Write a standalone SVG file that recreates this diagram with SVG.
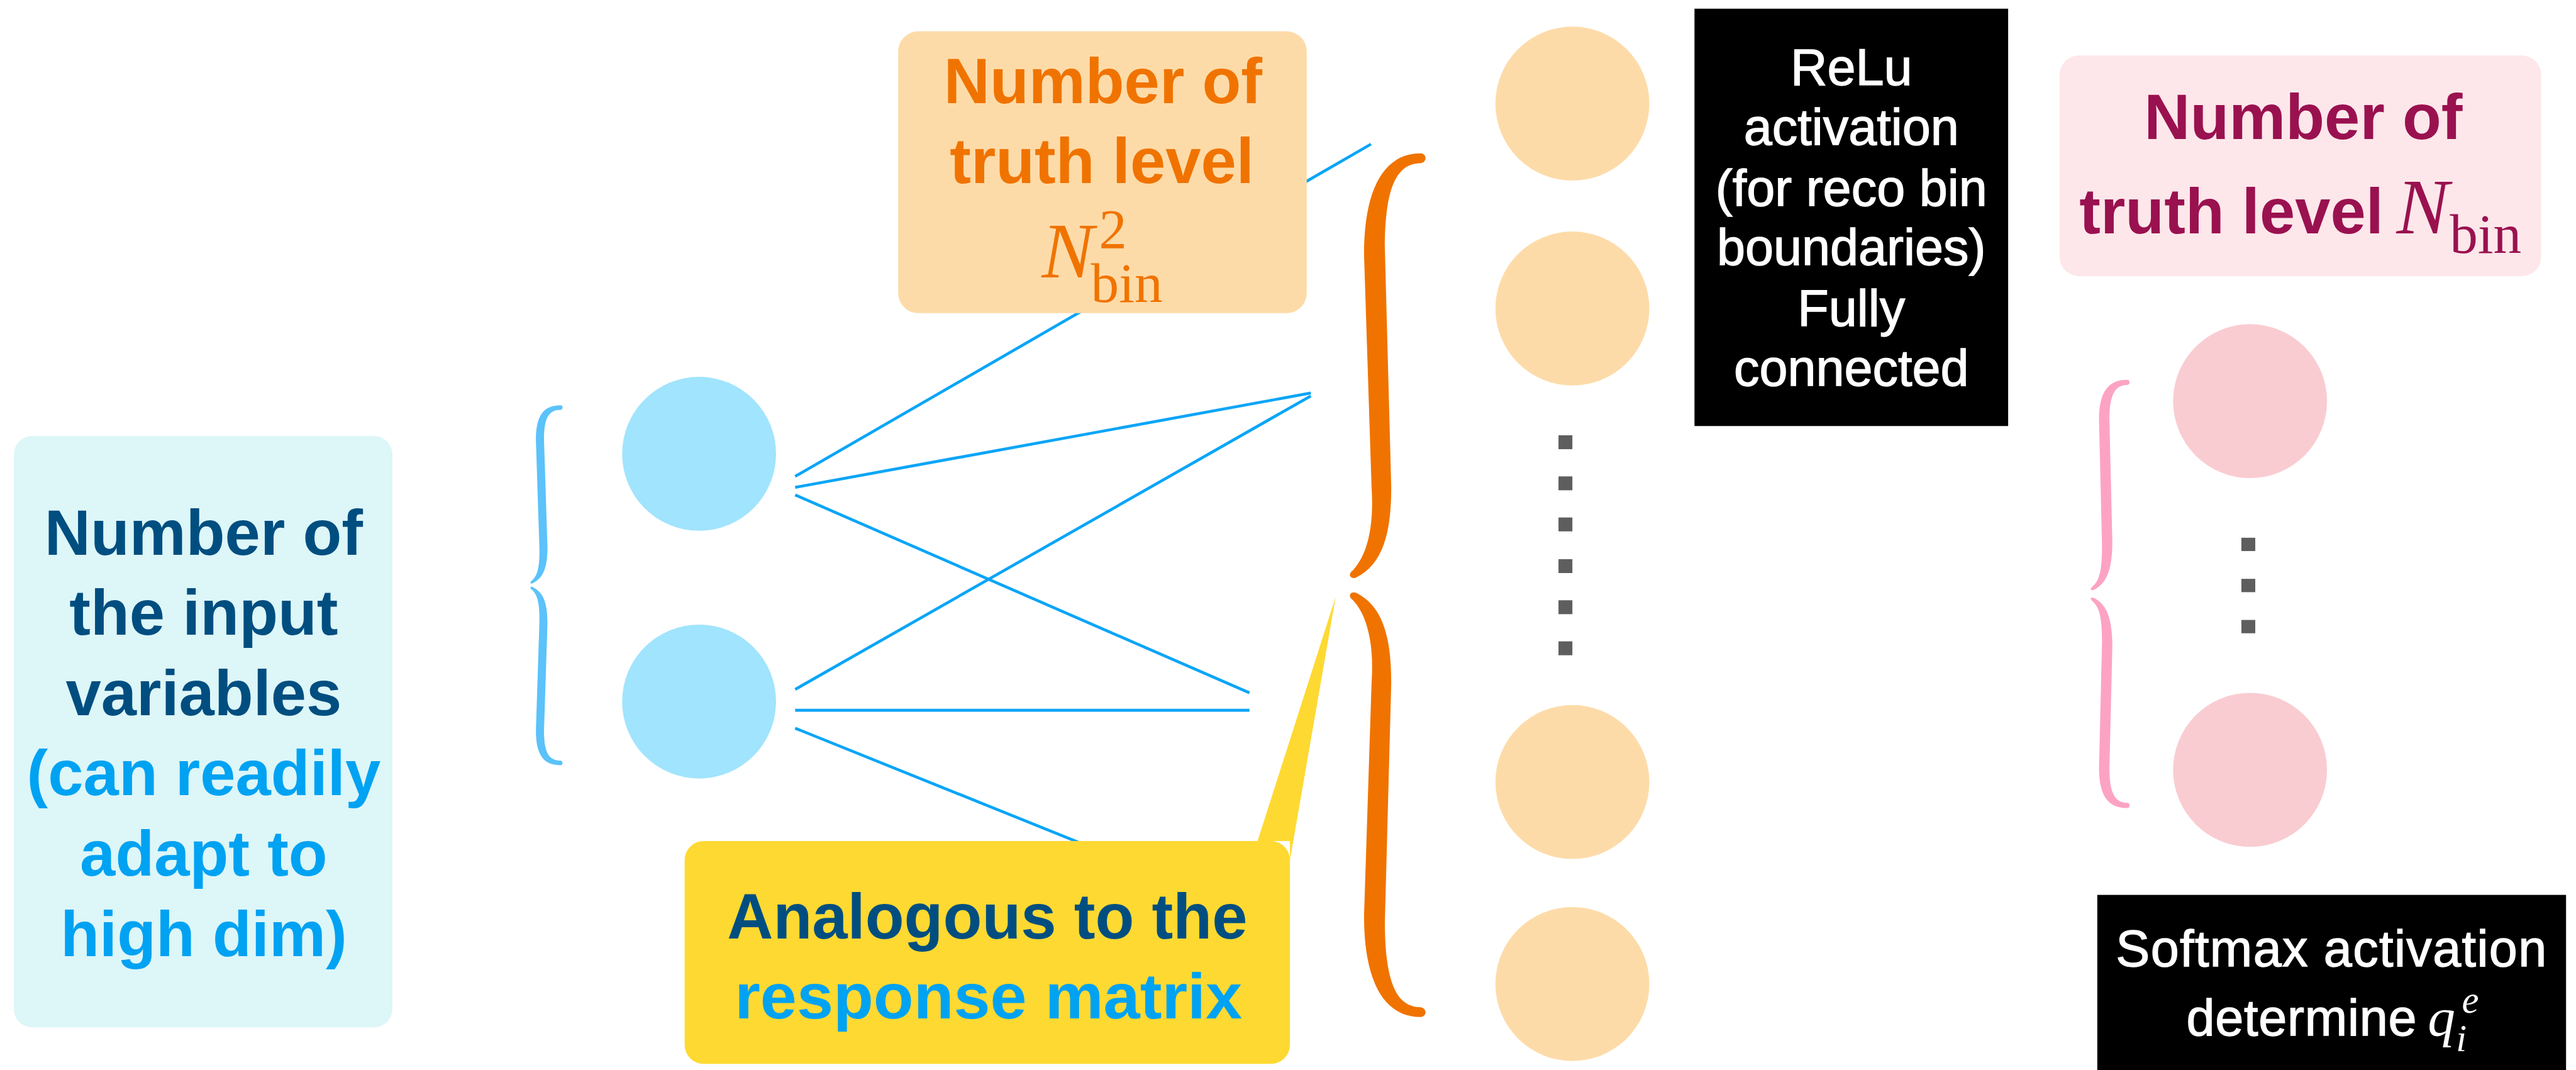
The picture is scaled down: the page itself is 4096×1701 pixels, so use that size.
<svg xmlns="http://www.w3.org/2000/svg" width="4096" height="1701" viewBox="0 0 4096 1701">
  <style>
    .lbl{font-family:"Liberation Sans",Arial,Helvetica,sans-serif;font-weight:bold;font-size:110px;text-anchor:middle}
    .inv{font-family:"Liberation Sans",Arial,Helvetica,sans-serif;font-size:88px;fill:#fff;stroke:#fff;stroke-width:1.5}
    .math{font-family:"Liberation Serif","Times New Roman",serif;font-weight:normal;stroke:none}
    .it{font-style:italic}
    .wire{stroke:#0AA5F7;stroke-width:5;fill:none}
    .dark{fill:#004E80}
    .light{fill:#00A2F2}
    .orng{fill:#F07300}
    .plum{fill:#9A1150}
    .dot{fill:#5E5E5E}
    .inNode{fill:#A1E4FD}
    .hidNode{fill:#FDDBA9}
    .outNode{fill:#F9CCD2}
  </style>
  <defs>
    <!-- upper halves of the curly braces; lower halves are mirrored copies -->
    <path id="braceBlue" fill="#5BC2FA" d="M969 700 C942 700 926 714 926 760 L932 945 C933 982 928 996 918 1004 C915 1007 917 1009 920 1008 C938 999 946 983 946 945 L940 760 C940 722 948 708 969 708 C973 708 973 700 969 700 Z"/>
    <path id="braceOrange" fill="#F07300" d="M2455 265 C2392 265 2357 325 2357 440 L2370 842 C2374 900 2366 955 2338 985 C2328 992 2333 1001 2343 998 C2390 975 2404 920 2404 842 L2393 430 C2393 320 2415 282 2455 282 C2466 280 2466 266 2455 265 Z"/>
    <path id="bracePink" fill="#FCA3C3" d="M3676 656 C3645 656 3627 674 3627 725 L3632 935 C3633 985 3628 1003 3615 1014 C3611 1018 3613 1021 3618 1019 C3640 1008 3650 985 3650 935 L3645 725 C3645 681 3655 665 3676 665 C3681 665 3681 656 3676 656 Z"/>
  </defs>
  <rect width="4096" height="1701" fill="#fff"/>
  <g transform="scale(0.9202)">

    <!-- weights between the input layer and the first hidden layer -->
    <g id="connectors">
      <line class="wire" x1="1374" y1="823" x2="2369" y2="249"/>
      <line class="wire" x1="1374" y1="842" x2="2265" y2="679"/>
      <line class="wire" x1="1374" y1="855" x2="2159" y2="1197"/>
      <line class="wire" x1="1374" y1="1191" x2="2265" y2="684"/>
      <line class="wire" x1="1374" y1="1227" x2="2159" y2="1227"/>
      <line class="wire" x1="1374" y1="1258" x2="1866" y2="1456"/>
    </g>

    <!-- input description -->
    <g id="input-label">
      <rect x="24" y="753" width="654" height="1022" rx="32" fill="#DDF6F8"/>
      <text class="lbl dark" x="352" y="958">Number of</text>
      <text class="lbl dark" x="352" y="1097">the input</text>
      <text class="lbl dark" x="352" y="1236">variables</text>
      <text class="lbl light" x="352" y="1374">(can readily</text>
      <text class="lbl light" x="352" y="1513">adapt to</text>
      <text class="lbl light" x="352" y="1652">high dim)</text>
    </g>

    <!-- input layer -->
    <g id="input-layer">
      <use href="#braceBlue"/>
      <use href="#braceBlue" transform="translate(0,2022) scale(1,-1)"/>
      <circle class="inNode" cx="1208" cy="784" r="133"/>
      <circle class="inNode" cx="1208" cy="1212" r="133"/>
    </g>

    <!-- size of the hidden layer -->
    <g id="hidden-size">
      <rect x="1552" y="54" width="706" height="487" rx="35" fill="#FDDBA8"/>
      <text class="lbl orng" x="1906" y="178">Number of</text>
      <text class="lbl orng" x="1904" y="316">truth level</text>
      <text class="math orng" style="text-anchor:start"><tspan class="it" font-size="135" x="1800" y="479">N</tspan><tspan font-size="96" x="1899" y="428">2</tspan><tspan font-size="97" x="1885" y="522">bin</tspan></text>
    </g>

    <!-- response matrix callout -->
    <g id="response-callout">
      <path fill="#FED932" d="M2173 1453 L2308 1031 L2229 1486 L2229 1453 Z"/>
      <rect x="1183" y="1453" width="1046" height="385" rx="33" fill="#FED932"/>
      <text class="lbl dark" font-size="112" x="1706" y="1621" textLength="899" lengthAdjust="spacingAndGlyphs">Analogous to the</text>
      <text class="lbl light" font-size="112" x="1708" y="1759" textLength="877" lengthAdjust="spacingAndGlyphs">response matrix</text>
    </g>

    <!-- hidden layer -->
    <g id="hidden-layer">
      <use href="#braceOrange"/>
      <use href="#braceOrange" transform="translate(0,2022) scale(1,-1)"/>
      <circle class="hidNode" cx="2717" cy="179" r="133"/>
      <circle class="hidNode" cx="2717" cy="533" r="133"/>
      <circle class="hidNode" cx="2717" cy="1351" r="133"/>
      <circle class="hidNode" cx="2717" cy="1700" r="133"/>
      <rect class="dot" x="2693" y="752" width="24" height="24"/>
      <rect class="dot" x="2693" y="823" width="24" height="24"/>
      <rect class="dot" x="2693" y="894" width="24" height="24"/>
      <rect class="dot" x="2693" y="966" width="24" height="24"/>
      <rect class="dot" x="2693" y="1037" width="24" height="24"/>
      <rect class="dot" x="2693" y="1108" width="24" height="24"/>
    </g>

    <!-- hidden layer activation note -->
    <g id="relu-note">
      <rect x="2928" y="15" width="542" height="721" fill="#000"/>
      <g class="inv" text-anchor="middle">
        <text x="3199" y="147">ReLu</text>
        <text x="3199" y="250">activation</text>
        <text x="3199" y="355">(for reco bin</text>
        <text x="3199" y="458">boundaries)</text>
        <text x="3199" y="563">Fully</text>
        <text x="3199" y="666">connected</text>
      </g>
    </g>

    <!-- size of the output layer -->
    <g id="output-size">
      <rect x="3559" y="96" width="832" height="381" rx="33" fill="#FDE7EA"/>
      <text class="lbl plum" x="3980" y="240">Number of</text>
      <text class="lbl plum" style="text-anchor:start"><tspan x="3593" y="403">truth level</tspan><tspan class="math it" font-size="136" x="4141" y="403">N</tspan><tspan class="math" font-size="97" x="4233" y="437">bin</tspan></text>
    </g>

    <!-- output layer -->
    <g id="output-layer">
      <use href="#bracePink"/>
      <use href="#bracePink" transform="translate(0,2052) scale(1,-1)"/>
      <circle class="outNode" cx="3888" cy="693" r="133"/>
      <circle class="outNode" cx="3888" cy="1330" r="133"/>
      <rect class="dot" x="3873" y="929" width="24" height="23"/>
      <rect class="dot" x="3873" y="1000" width="24" height="23"/>
      <rect class="dot" x="3873" y="1071" width="24" height="23"/>
    </g>

    <!-- output activation note -->
    <g id="softmax-note">
      <rect x="3624" y="1546" width="810" height="310" fill="#000"/>
      <text class="inv" font-size="86" x="4029" y="1669" text-anchor="middle" letter-spacing="1.5">Softmax activation</text>
      <text class="inv" font-size="86"><tspan x="3778" y="1789" letter-spacing="0.8">determine</tspan><tspan class="math it" fill="#fff" font-size="95" x="4195" y="1789">q</tspan><tspan class="math it" fill="#fff" font-size="66" x="4254" y="1750">e</tspan><tspan class="math it" fill="#fff" font-size="66" x="4244" y="1816">i</tspan></text>
    </g>
  </g>
</svg>
